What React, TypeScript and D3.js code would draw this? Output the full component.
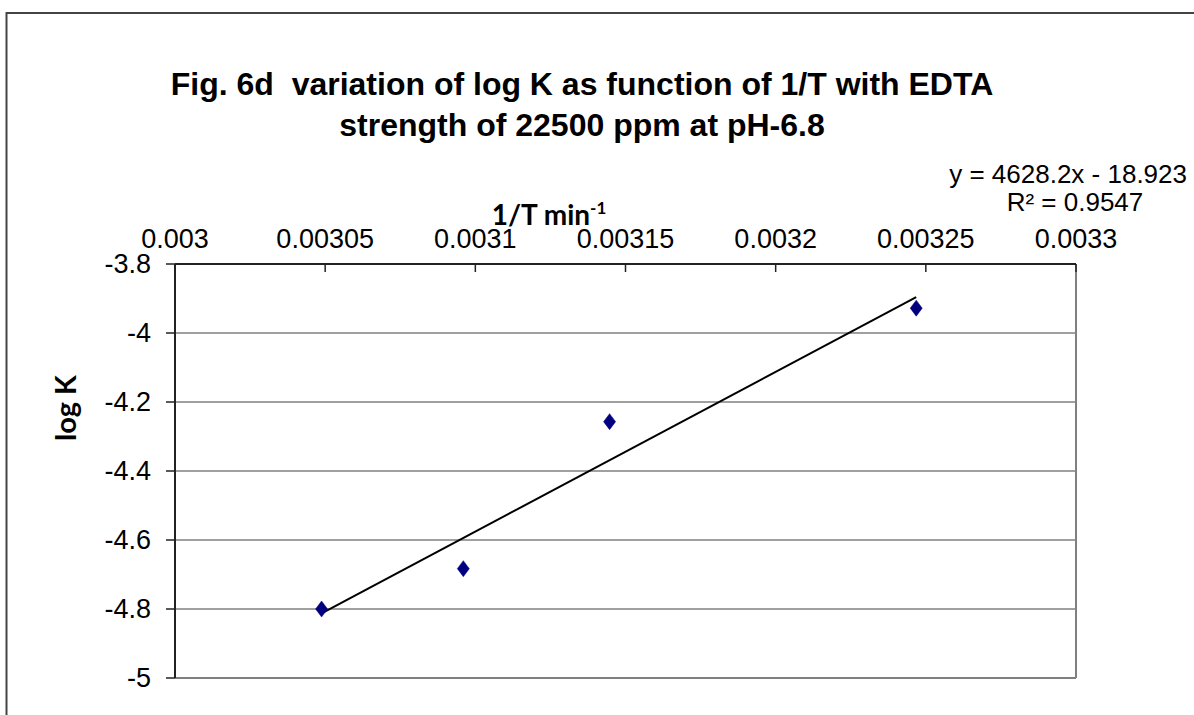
import React from "react";
import * as d3 from "d3";

const xValues = [0.0030488, 0.003096, 0.0031447, 0.0032468];
const yValues = [-4.8, -4.683, -4.257, -3.928];
const xTicks = [0.003, 0.00305, 0.0031, 0.00315, 0.0032, 0.00325, 0.0033];
const xTickLabels = ["0.003", "0.00305", "0.0031", "0.00315", "0.0032", "0.00325", "0.0033"];
const yTicks = [-3.8, -4, -4.2, -4.4, -4.6, -4.8, -5];
const yTickLabels = ["-3.8", "-4", "-4.2", "-4.4", "-4.6", "-4.8", "-5"];
const trendSlope = 4628.2;
const trendIntercept = -18.923;
const titleLines = [
  "Fig. 6d  variation of log K as function of 1/T with EDTA",
  "strength of 22500 ppm at pH-6.8",
];
const equationLabel = "y = 4628.2x - 18.923";
const r2Label = "R² = 0.9547";

export default function App() {
  const W = 1194;
  const H = 715;
  const left = 175;
  const right = 1076;
  const top = 264;
  const bottom = 678;
  const x = d3.scaleLinear().domain([0.003, 0.0033]).range([left, right]);
  const y = d3.scaleLinear().domain([-3.8, -5]).range([top, bottom]);
  const xmin = d3.min(xValues) as number;
  const xmax = d3.max(xValues) as number;
  const trend = d3.line<number>()
    .x((d) => x(d))
    .y((d) => y(trendSlope * d + trendIntercept));
  const diamond = d3.symbol().type(d3.symbolDiamond).size(100)() as string;
  const arial = "'Liberation Sans', Arial, sans-serif";
  const calibri = "Lato, 'Open Sans', sans-serif";

  return (
    <svg
      width={W}
      height={H}
      style={{ position: "absolute", left: 0, top: 0, background: "#fff" }}
    >
      {/* outer chart frame */}
      <path d={`M6.5,${H + 5} L6.5,13 L${W + 5},13`} fill="none" stroke="#444" strokeWidth={2} />

      {/* title */}
      {titleLines.map((t, i) => (
        <text
          key={i}
          x={582}
          y={95 + i * 41}
          textAnchor="middle"
          fontFamily={arial}
          fontWeight="bold"
          fontSize={32}
          fill="#000"
          style={{ whiteSpace: "pre" }}
        >
          {t}
        </text>
      ))}

      {/* trend equation */}
      <text x={1187} y={183} textAnchor="end" fontFamily={arial} fontSize={26} fill="#000">
        {equationLabel}
      </text>
      <text x={1075} y={211} textAnchor="middle" fontFamily={arial} fontSize={26} fill="#000">
        {r2Label}
      </text>

      {/* x axis title */}
      <text x={549} y={225} textAnchor="middle" fontFamily={calibri} fontWeight="bold" fontSize={28} fill="#000">
        1/T min
        <tspan dy={-11} fontSize={17}>-1</tspan>
      </text>

      {/* y axis title */}
      <text
        transform={`translate(76,408) rotate(-90)`}
        textAnchor="middle"
        fontFamily={calibri}
        fontWeight="bold"
        fontSize={29}
        fill="#000"
      >
        log K
      </text>

      {/* gridlines */}
      {yTicks.map((t) => (
        <line key={t} x1={left} x2={right} y1={y(t)} y2={y(t)} stroke="#808080" strokeWidth={1.5} />
      ))}

      {/* plot border right/bottom */}
      <line x1={right} x2={right} y1={top} y2={bottom} stroke="#808080" strokeWidth={2} />
      <line x1={left} x2={right} y1={bottom} y2={bottom} stroke="#808080" strokeWidth={2} />

      {/* y axis */}
      <line x1={left} x2={left} y1={top} y2={bottom} stroke="#222" strokeWidth={2} />
      {yTicks.map((t, i) => (
        <g key={t}>
          <line x1={left - 9} x2={left} y1={y(t)} y2={y(t)} stroke="#222" strokeWidth={1.5} />
          <text
            x={151}
            y={y(t)}
            dy="0.35em"
            textAnchor="end"
            fontFamily={arial}
            fontSize={27}
            fill="#000"
          >
            {yTickLabels[i]}
          </text>
        </g>
      ))}

      {/* x axis (top) */}
      <line x1={left} x2={right} y1={top} y2={top} stroke="#222" strokeWidth={2} />
      {xTicks.map((t, i) => (
        <g key={t}>
          <line x1={x(t)} x2={x(t)} y1={top} y2={top + 8} stroke="#222" strokeWidth={1.5} />
          <text
            x={x(t)}
            y={248}
            textAnchor="middle"
            fontFamily={arial}
            fontSize={27}
            fill="#000"
          >
            {xTickLabels[i]}
          </text>
        </g>
      ))}

      {/* trendline */}
      <path d={trend([xmin, xmax]) as string} fill="none" stroke="#000" strokeWidth={2} />

      {/* points */}
      {xValues.map((xv, i) => (
        <path
          key={i}
          d={diamond}
          transform={`translate(${x(xv)},${y(yValues[i])}) scale(1.12,0.86)`}
          fill="#000080"
          stroke="#000080"
          strokeWidth={0.5}
        />
      ))}
    </svg>
  );
}
